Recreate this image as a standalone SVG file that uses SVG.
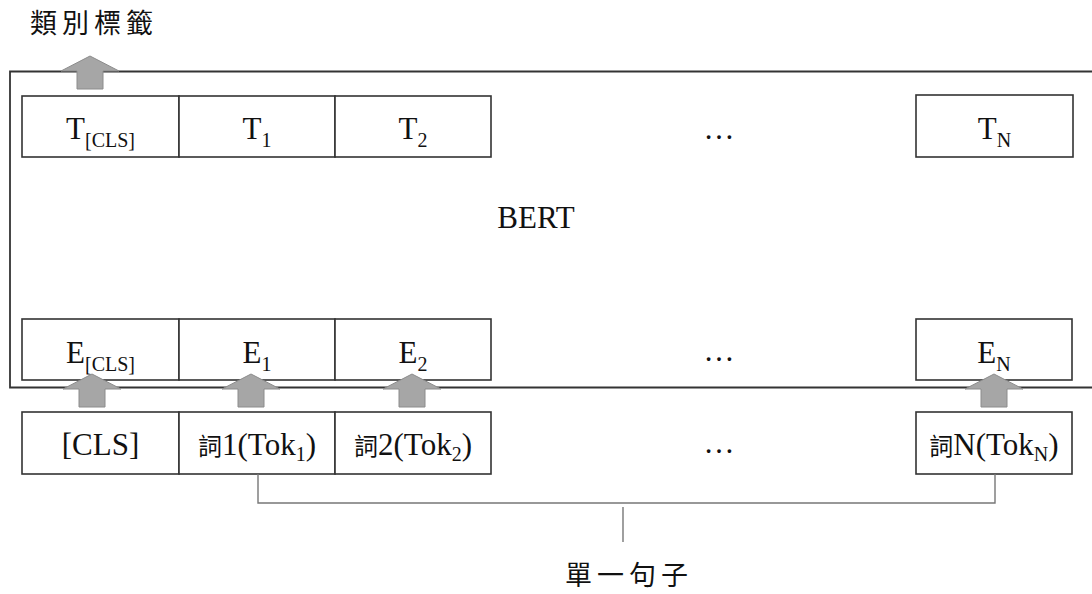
<svg xmlns="http://www.w3.org/2000/svg" width="1092" height="594" viewBox="0 0 1092 594">
<style>
.box{fill:#fff;stroke:#333;stroke-width:1.6}
.outer{fill:none;stroke:#333;stroke-width:1.8}
.arr{fill:#a6a6a6;stroke:#8c8c8c;stroke-width:1}
.br{fill:none;stroke:#777;stroke-width:1.4}
.t{font-family:"Liberation Serif","Times New Roman",serif;font-size:31px;fill:#111;text-anchor:middle}
.sub{font-size:20px}
.cj{font-family:"Noto Sans CJK TC","Noto Sans CJK SC",sans-serif;font-size:24px}
.cjl{font-family:"Noto Sans CJK TC","Noto Sans CJK SC",sans-serif;font-size:27px;fill:#111;letter-spacing:5px}
</style>
<defs>
<path id="up" d="M-29,15 L0,0 L29,15 L13,15 L13,33 L-13,33 L-13,15 Z"/>
</defs>
<rect width="1092" height="594" fill="#fff"/>
<g id="bert">
<path class="outer" d="M1093,71.5 L10,71.5 L10,387.5 L1093,387.5"/>
<text class="t" x="536" y="228">BERT</text>
</g>
<g id="label-top"><text class="cjl" x="30" y="33">類別標籤</text></g>
<g id="T-row">
<g id="t-cls"><rect class="box" x="22" y="96" width="157" height="61"/><text class="t" x="100.5" y="139">T<tspan class="sub" dy="8">[CLS]</tspan></text></g>
<g id="t-1"><rect class="box" x="179" y="96" width="156" height="61"/><text class="t" x="257" y="139">T<tspan class="sub" dy="8">1</tspan></text></g>
<g id="t-2"><rect class="box" x="335" y="96" width="156" height="61"/><text class="t" x="413" y="139">T<tspan class="sub" dy="8">2</tspan></text></g>
<g id="t-dots"><text class="t" x="719" y="139">…</text></g>
<g id="t-n"><rect class="box" x="916" y="95" width="157" height="62"/><text class="t" x="994.5" y="139">T<tspan class="sub" dy="8">N</tspan></text></g>
</g>
<g id="E-row">
<g id="e-cls"><rect class="box" x="22" y="319" width="157" height="61"/><text class="t" x="100.5" y="363">E<tspan class="sub" dy="8">[CLS]</tspan></text></g>
<g id="e-1"><rect class="box" x="179" y="319" width="156" height="61"/><text class="t" x="257" y="363">E<tspan class="sub" dy="8">1</tspan></text></g>
<g id="e-2"><rect class="box" x="335" y="319" width="156" height="61"/><text class="t" x="413" y="363">E<tspan class="sub" dy="8">2</tspan></text></g>
<g id="e-dots"><text class="t" x="719" y="361">…</text></g>
<g id="e-n"><rect class="box" x="916" y="319" width="156" height="61"/><text class="t" x="994" y="363">E<tspan class="sub" dy="8">N</tspan></text></g>
</g>
<g id="Tok-row">
<g id="tok-cls"><rect class="box" x="22" y="412" width="157" height="62"/><text class="t" x="100.5" y="455">[CLS]</text></g>
<g id="tok-1"><rect class="box" x="179" y="412" width="156" height="62"/><text class="t" x="257" y="455"><tspan class="cj">詞</tspan>1(Tok<tspan class="sub" dy="6">1</tspan><tspan dy="-6">)</tspan></text></g>
<g id="tok-2"><rect class="box" x="335" y="412" width="156" height="62"/><text class="t" x="413" y="455"><tspan class="cj">詞</tspan>2(Tok<tspan class="sub" dy="6">2</tspan><tspan dy="-6">)</tspan></text></g>
<g id="tok-dots"><text class="t" x="719" y="453">…</text></g>
<g id="tok-n"><rect class="box" x="916" y="412" width="156" height="62"/><text class="t" x="994" y="455"><tspan class="cj">詞</tspan>N(Tok<tspan class="sub" dy="6">N</tspan><tspan dy="-6">)</tspan></text></g>
</g>
<g id="connectors">
<use href="#up" class="arr" x="90" y="56"/>
<use href="#up" class="arr" x="92" y="374"/>
<use href="#up" class="arr" x="251" y="374"/>
<use href="#up" class="arr" x="412" y="374"/>
<use href="#up" class="arr" x="994" y="374"/>
<path class="br" d="M258,474 L258,503 L995,503 L995,474"/>
<path class="br" d="M623,507 L623,542"/>
</g>
<g id="label-bottom"><text class="cjl" x="565" y="585">單一句子</text></g>
</svg>
